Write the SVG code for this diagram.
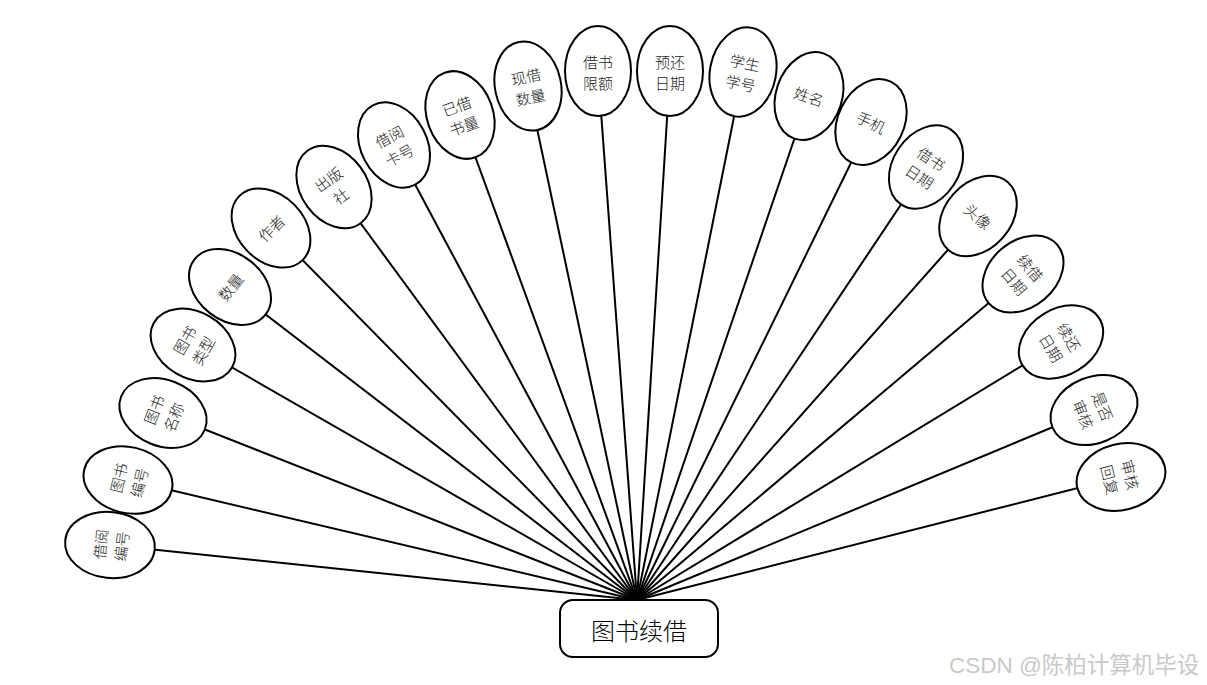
<svg xmlns="http://www.w3.org/2000/svg" width="1207" height="685" viewBox="0 0 1207 685">
<style>
.e{fill:#fff;stroke:#000;stroke-width:2}
.t{font-family:"Noto Sans CJK SC","Liberation Sans",sans-serif;font-size:15px;font-weight:300;fill:#222;text-anchor:middle;dominant-baseline:central}
.c line{stroke:#000;stroke-width:2}
.box{fill:#fff;stroke:#000;stroke-width:2}
.bt{font-family:"Noto Sans CJK SC","Liberation Sans",sans-serif;font-size:24px;font-weight:300;fill:#000;text-anchor:middle;dominant-baseline:central}
.wm{font-family:"Liberation Sans","Noto Sans CJK SC",sans-serif;font-size:22.5px;fill:#c9c9c9}
</style>
<rect width="1207" height="685" fill="#fff"/>
<g id="connectors" class="c">
<line x1="637" y1="600" x2="110" y2="545"/>
<line x1="637" y1="600" x2="128" y2="480"/>
<line x1="637" y1="600" x2="163" y2="413"/>
<line x1="637" y1="600" x2="193" y2="345"/>
<line x1="637" y1="600" x2="230" y2="287"/>
<line x1="637" y1="600" x2="271" y2="228"/>
<line x1="637" y1="600" x2="334" y2="187"/>
<line x1="637" y1="600" x2="394" y2="145"/>
<line x1="637" y1="600" x2="460" y2="115"/>
<line x1="637" y1="600" x2="528" y2="86"/>
<line x1="637" y1="600" x2="598" y2="71"/>
<line x1="637" y1="600" x2="670" y2="71"/>
<line x1="637" y1="600" x2="743" y2="72"/>
<line x1="637" y1="600" x2="809" y2="96"/>
<line x1="637" y1="600" x2="871" y2="122"/>
<line x1="637" y1="600" x2="926" y2="167"/>
<line x1="637" y1="600" x2="978" y2="216"/>
<line x1="637" y1="600" x2="1023" y2="274"/>
<line x1="637" y1="600" x2="1061" y2="342"/>
<line x1="637" y1="600" x2="1094" y2="410"/>
<line x1="637" y1="600" x2="1121" y2="477"/>
</g>
<g id="n1" transform="translate(110,545) rotate(-84)"><ellipse class="e" rx="33" ry="45"/><text class="t" y="-10">借阅</text><text class="t" y="11">编号</text></g>
<g id="n2" transform="translate(128,480) rotate(-76.7)"><ellipse class="e" rx="33" ry="45"/><text class="t" y="-10">图书</text><text class="t" y="11">编号</text></g>
<g id="n3" transform="translate(163,413) rotate(-68.5)"><ellipse class="e" rx="33" ry="45"/><text class="t" y="-10">图书</text><text class="t" y="11">名称</text></g>
<g id="n4" transform="translate(193,345) rotate(-60.1)"><ellipse class="e" rx="33" ry="45"/><text class="t" y="-10">图书</text><text class="t" y="11">类型</text></g>
<g id="n5" transform="translate(230,287) rotate(-52.4)"><ellipse class="e" rx="33" ry="45"/><text class="t" y="0">数量</text></g>
<g id="n6" transform="translate(271,228) rotate(-44.5)"><ellipse class="e" rx="33" ry="45"/><text class="t" y="0">作者</text></g>
<g id="n7" transform="translate(334,187) rotate(-36.3)"><ellipse class="e" rx="33" ry="45"/><text class="t" y="-10">出版</text><text class="t" y="11">社</text></g>
<g id="n8" transform="translate(394,145) rotate(-28.1)"><ellipse class="e" rx="33" ry="45"/><text class="t" y="-10">借阅</text><text class="t" y="11">卡号</text></g>
<g id="n9" transform="translate(460,115) rotate(-20)"><ellipse class="e" rx="33" ry="45"/><text class="t" y="-10">已借</text><text class="t" y="11">书量</text></g>
<g id="n10" transform="translate(528,86) rotate(-12)"><ellipse class="e" rx="33" ry="45"/><text class="t" y="-10">现借</text><text class="t" y="11">数量</text></g>
<g id="n11" transform="translate(598,71)"><ellipse class="e" rx="33" ry="45"/><text class="t" y="-10">借书</text><text class="t" y="11">限额</text></g>
<g id="n12" transform="translate(670,71)"><ellipse class="e" rx="33" ry="45"/><text class="t" y="-10">预还</text><text class="t" y="11">日期</text></g>
<g id="n13" transform="translate(743,72) rotate(11.4)"><ellipse class="e" rx="33" ry="45"/><text class="t" y="-10">学生</text><text class="t" y="11">学号</text></g>
<g id="n14" transform="translate(809,96) rotate(18.8)"><ellipse class="e" rx="33" ry="45"/><text class="t" y="0">姓名</text></g>
<g id="n15" transform="translate(871,122) rotate(26.1)"><ellipse class="e" rx="33" ry="45"/><text class="t" y="0">手机</text></g>
<g id="n16" transform="translate(926,167) rotate(33.7)"><ellipse class="e" rx="33" ry="45"/><text class="t" y="-10">借书</text><text class="t" y="11">日期</text></g>
<g id="n17" transform="translate(978,216) rotate(41.6)"><ellipse class="e" rx="33" ry="45"/><text class="t" y="0">头像</text></g>
<g id="n18" transform="translate(1023,274) rotate(49.8)"><ellipse class="e" rx="33" ry="45"/><text class="t" y="-10">续借</text><text class="t" y="11">日期</text></g>
<g id="n19" transform="translate(1061,342) rotate(58.7)"><ellipse class="e" rx="33" ry="45"/><text class="t" y="-10">续还</text><text class="t" y="11">日期</text></g>
<g id="n20" transform="translate(1094,410) rotate(67.4)"><ellipse class="e" rx="33" ry="45"/><text class="t" y="-10">是否</text><text class="t" y="11">审核</text></g>
<g id="n21" transform="translate(1121,477) rotate(75.7)"><ellipse class="e" rx="33" ry="45"/><text class="t" y="-10">审核</text><text class="t" y="11">回复</text></g>
<g id="center"><rect class="box" x="560" y="600" width="158" height="57" rx="13" ry="13"/><text class="bt" x="639" y="629">图书续借</text></g>
<text class="wm" x="949" y="673">CSDN @陈柏计算机毕设</text>
</svg>
